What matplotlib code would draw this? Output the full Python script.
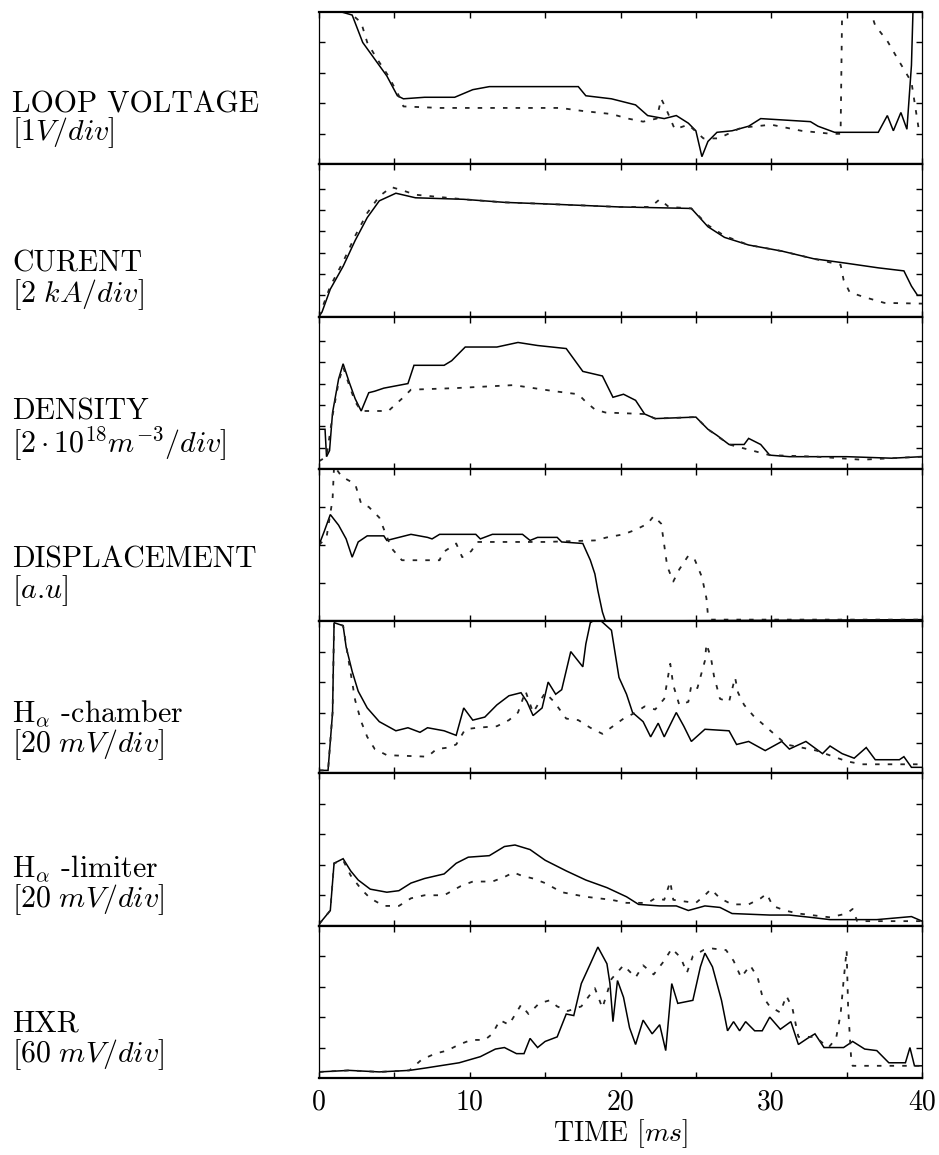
import numpy as np
import matplotlib
matplotlib.use("Agg")
import matplotlib.pyplot as plt

plt.rcParams['font.family'] = ['cmr10', 'DejaVu Serif']
plt.rcParams['mathtext.fontset'] = 'cm'
plt.rcParams['axes.unicode_minus'] = False

# ---------------- data (panel-normalised, 0 = bottom, 1 = top) ----------------
labels_top = ["LOOP VOLTAGE", "CURENT", "DENSITY", "DISPLACEMENT",
              r"H$_\alpha$ -chamber", r"H$_\alpha$ -limiter", "HXR"]
labels_unit = [r"$[1V/div]$", r"$[2\ kA/div]$", r"$[2\cdot10^{18}m^{-3}/div]$",
               r"[$a$.$u$]", r"$[20\ mV/div]$", r"$[20\ mV/div]$", r"$[60\ mV/div]$"]
xtick_labels = ["0", "10", "20", "30", "40"]

loop_t = [0, 1.5, 2.2, 2.9, 3.7, 4.5, 5.2, 5.6, 7.0, 9.0, 10.2, 11.3, 17.2, 17.7, 19.4, 21.0, 21.8, 22.9,
          23.7, 24.5, 25.0, 25.4, 25.8, 26.4, 27.4, 28.5, 29.3, 32.6, 33.1, 34.2, 37.1, 37.7, 38.1, 38.6,
          39.0, 39.3, 39.4, 40]
loop_s = [1.0, 1.0, 0.98, 0.80, 0.69, 0.58, 0.45, 0.43, 0.44, 0.44, 0.49, 0.51, 0.51, 0.45, 0.43, 0.39,
          0.32, 0.30, 0.32, 0.27, 0.22, 0.05, 0.15, 0.21, 0.22, 0.25, 0.30, 0.28, 0.25, 0.21, 0.21, 0.32,
          0.22, 0.34, 0.23, 0.65, 1.0, 1.0]
loop_dt = [0, 2.0, 2.8, 3.2, 3.8, 4.6, 5.3, 5.6, 8, 12, 16, 17.5, 19.4, 20.5, 21.5, 22.4, 22.7, 23.0,
           23.6, 24.5, 25.5, 26.5, 28, 30, 32, 34.0, 34.6, 34.7, 35.0, 36.6, 36.9, 37.7, 38.4, 39.3,
           39.8, 40]
loop_d = [1.0, 1.0, 0.93, 0.80, 0.70, 0.58, 0.45, 0.38, 0.37, 0.37, 0.37, 0.35, 0.33, 0.30, 0.28, 0.30,
          0.43, 0.37, 0.23, 0.26, 0.17, 0.17, 0.24, 0.26, 0.22, 0.20, 0.20, 1.0, 1.0, 1.0, 0.91, 0.81,
          0.69, 0.54, 0.22, 0.22]

cur_t = [0, 0.2, 0.75, 1.6, 2.4, 3.2, 4.0, 5.1, 6.4, 9.6, 12.3, 15.0, 19.9, 24.7, 25.8, 26.9, 28.5,
         30.7, 32.8, 35.0, 37.1, 38.8, 39.3, 39.7, 40]
cur_s = [0.0, 0.03, 0.18, 0.33, 0.50, 0.65, 0.76, 0.81, 0.78, 0.77, 0.75, 0.74, 0.72, 0.71, 0.59, 0.52,
         0.47, 0.43, 0.38, 0.35, 0.32, 0.30, 0.20, 0.14, 0.14]
cur_dt = [0, 0.75, 1.6, 2.4, 3.2, 4.0, 4.8, 5.5, 6.4, 9.6, 12.3, 15, 19.9, 22.0, 22.6, 23.2, 24.7, 25.8,
          26.9, 28.5, 30.7, 32.8, 34.6, 34.8, 35.2, 36.1, 37.5, 40]
cur_d = [0.0, 0.2, 0.36, 0.53, 0.68, 0.79, 0.85, 0.83, 0.80, 0.77, 0.75, 0.74, 0.72, 0.72, 0.77, 0.72,
         0.71, 0.60, 0.53, 0.47, 0.43, 0.38, 0.34, 0.24, 0.16, 0.13, 0.09, 0.085]

den_t = [0, 0.4, 0.5, 0.7, 0.9, 1.3, 1.6, 2.0, 2.4, 2.8, 3.3, 3.7, 4.3, 5.9, 6.3, 8.3, 8.8, 9.7, 11.8,
         13.2, 14.5, 16.4, 17.5, 18.8, 19.5, 20.2, 21.0, 21.6, 22.3, 25.0, 25.8, 26.4, 27.2, 28.2, 28.5,
         29.3, 29.9, 31.2, 35, 38, 40]
den_s = [0.26, 0.26, 0.08, 0.12, 0.37, 0.59, 0.69, 0.57, 0.46, 0.38, 0.50, 0.51, 0.53, 0.56, 0.68, 0.68,
         0.71, 0.80, 0.80, 0.83, 0.81, 0.79, 0.64, 0.61, 0.47, 0.49, 0.45, 0.36, 0.33, 0.34, 0.26, 0.22,
         0.16, 0.16, 0.20, 0.16, 0.09, 0.08, 0.08, 0.07, 0.08]
den_dt = [0, 0.5, 0.9, 1.3, 1.6, 2.0, 2.4, 2.8, 4.6, 5.6, 6.1, 9, 12.9, 15.6, 17.2, 17.7, 18.3, 19, 21.6,
          22.3, 25, 25.8, 27.2, 29.9, 33, 36, 40]
den_d = [0.05, 0.08, 0.35, 0.57, 0.67, 0.55, 0.44, 0.38, 0.38, 0.47, 0.52, 0.53, 0.55, 0.51, 0.49, 0.44,
         0.39, 0.37, 0.36, 0.33, 0.34, 0.26, 0.16, 0.09, 0.08, 0.06, 0.08]

dis_t = [0, 0.35, 0.75, 1.3, 1.8, 2.2, 2.6, 3.2, 4.3, 4.5, 5.3, 6.1, 7.2, 7.5, 8, 10.4, 10.7, 11.5, 13.5,
         14.0, 14.5, 15.8, 16.1, 17.5, 18.0, 18.3, 18.5, 18.8, 19.0, 40]
dis_s = [0.50, 0.59, 0.70, 0.63, 0.54, 0.42, 0.52, 0.56, 0.56, 0.53, 0.55, 0.57, 0.55, 0.54, 0.57, 0.57,
         0.54, 0.57, 0.57, 0.53, 0.55, 0.55, 0.52, 0.51, 0.40, 0.31, 0.20, 0.06, 0.0, 0.01]
dis_dt = [0, 0.5, 0.9, 1.0, 1.5, 2.4, 2.8, 3.3, 4.0, 4.8, 5.5, 8.0, 8.2, 9.1, 9.5, 10.1, 10.5, 15, 18.3,
          19.1, 20.2, 21.0, 21.8, 22.2, 22.7, 22.9, 23.1, 23.5, 23.9, 24.5, 24.9, 25.4, 25.7, 25.8, 26, 40]
dis_d = [0.50, 0.55, 0.80, 1.02, 0.95, 0.90, 0.77, 0.75, 0.68, 0.48, 0.40, 0.40, 0.45, 0.51, 0.42, 0.46,
         0.52, 0.52, 0.53, 0.55, 0.57, 0.60, 0.64, 0.69, 0.64, 0.50, 0.36, 0.26, 0.34, 0.43, 0.41, 0.29,
         0.15, 0.04, 0.01, 0.01]

hch_t = [0, 0.6, 0.9, 1.0, 1.6, 1.8, 2.2, 2.6, 3.2, 4.0, 5.1, 5.9, 6.7, 7.2, 8.3, 9.1, 9.6, 10.2, 11.0,
         11.8, 12.6, 13.4, 13.8, 14.2, 14.8, 15.2, 15.7, 16.1, 16.7, 17.5, 17.7, 18.0, 18.5, 19.4, 19.9,
         20.4, 20.8, 21.5, 22.0, 22.5, 22.9, 23.7, 24.2, 24.7, 25.6, 27.2, 27.7, 28.5, 29.6, 30.7, 31.2,
         32.3, 33.4, 33.9, 34.7, 35.5, 36.3, 36.9, 38.5, 38.8, 39.3, 40]
hch_s = [0.02, 0.02, 0.40, 0.99, 0.97, 0.83, 0.67, 0.54, 0.43, 0.34, 0.28, 0.30, 0.27, 0.30, 0.28, 0.25,
         0.43, 0.35, 0.37, 0.45, 0.51, 0.53, 0.47, 0.38, 0.43, 0.60, 0.52, 0.55, 0.80, 0.70, 0.85, 0.99,
         1.02, 0.94, 0.63, 0.52, 0.40, 0.34, 0.24, 0.33, 0.24, 0.40, 0.31, 0.21, 0.29, 0.28, 0.19, 0.21,
         0.15, 0.21, 0.16, 0.21, 0.13, 0.18, 0.13, 0.10, 0.17, 0.09, 0.09, 0.11, 0.04, 0.04]
hch_dt = [0, 0.6, 0.9, 1.0, 1.6, 1.9, 2.4, 2.8, 3.2, 3.7, 4.5, 7.2, 7.8, 8.6, 9.1, 9.7, 10.5, 11.8, 12.6,
          13.2, 13.7, 14.2, 15.0, 15.6, 16.4, 17.2, 18.0, 18.8, 19.5, 20.2, 21.0, 21.6, 22.3, 22.9, 23.3,
          23.5, 23.9, 24.5, 24.7, 25.1, 25.6, 25.7, 26.0, 26.2, 26.6, 27.2, 27.6, 27.8, 28.2, 28.8, 29.6,
          31, 33, 35, 36, 40]
hch_d = [0.02, 0.02, 0.40, 0.99, 0.97, 0.78, 0.48, 0.34, 0.24, 0.16, 0.12, 0.11, 0.16, 0.17, 0.19, 0.29,
         0.30, 0.31, 0.35, 0.40, 0.54, 0.40, 0.53, 0.47, 0.36, 0.35, 0.30, 0.26, 0.31, 0.36, 0.40, 0.44,
         0.42, 0.49, 0.72, 0.58, 0.45, 0.47, 0.58, 0.56, 0.74, 0.85, 0.76, 0.64, 0.49, 0.47, 0.63, 0.53,
         0.45, 0.38, 0.31, 0.19, 0.15, 0.08, 0.06, 0.06]

hlim_t = [0, 0.75, 1.0, 1.6, 2.1, 2.6, 3.4, 4.5, 5.3, 6.1, 7.0, 8.3, 9.1, 9.9, 11.3, 12.3, 13.0, 14.0,
          15.0, 16.4, 17.7, 19.1, 20.4, 21.2, 22.6, 23.7, 24.5, 25.6, 26.6, 27.4, 29.9, 31.2, 32.6, 33.9,
          37, 39.3, 40]
hlim_s = [0.01, 0.10, 0.41, 0.44, 0.36, 0.30, 0.24, 0.22, 0.23, 0.28, 0.31, 0.34, 0.41, 0.45, 0.46, 0.52,
          0.53, 0.50, 0.43, 0.36, 0.30, 0.25, 0.19, 0.14, 0.13, 0.13, 0.10, 0.13, 0.12, 0.08, 0.07, 0.07,
          0.055, 0.04, 0.04, 0.06, 0.03]
hlim_dt = [0, 0.75, 1.0, 1.6, 2.1, 2.8, 3.4, 4.3, 5.3, 6.1, 7.0, 8.3, 9.4, 10.2, 11.5, 12.3, 12.9, 13.4,
           14.2, 15.0, 16.1, 17.7, 19.4, 20.4, 21.8, 22.3, 22.9, 23.3, 23.5, 24.2, 25.0, 25.6, 26.0, 26.6,
           27.4, 28.5, 29.3, 29.7, 30.1, 30.9, 31.8, 33.9, 35.0, 35.4, 35.7, 40]
hlim_d = [0.01, 0.10, 0.41, 0.43, 0.33, 0.24, 0.18, 0.13, 0.13, 0.18, 0.20, 0.20, 0.26, 0.29, 0.29, 0.32,
          0.35, 0.33, 0.31, 0.28, 0.22, 0.19, 0.17, 0.15, 0.15, 0.18, 0.17, 0.29, 0.17, 0.16, 0.15, 0.20,
          0.24, 0.18, 0.14, 0.14, 0.18, 0.21, 0.13, 0.10, 0.08, 0.055, 0.08, 0.11, 0.03, 0.03]

hxr_t = [0, 2, 4, 6, 7.1, 9.3, 10.7, 11.7, 12.3, 13.1, 13.6, 14.0, 14.5, 15.0, 15.8, 16.4, 16.9, 17.4,
         18.0, 18.5, 19.1, 19.3, 19.5, 19.8, 20.2, 20.6, 21.0, 21.5, 22.1, 22.6, 23.0, 23.4, 23.8, 24.8,
         25.3, 25.6, 26.1, 26.7, 27.1, 27.5, 27.9, 28.3, 28.9, 29.4, 29.9, 30.6, 31.3, 31.8, 32.4, 32.9,
         33.5, 34.8, 35.4, 36.2, 37.0, 37.8, 38.9, 39.2, 39.5, 40]
hxr_s = [0.04, 0.05, 0.04, 0.05, 0.066, 0.10, 0.14, 0.19, 0.20, 0.16, 0.16, 0.26, 0.20, 0.24, 0.27, 0.42,
         0.41, 0.62, 0.75, 0.86, 0.75, 0.62, 0.37, 0.64, 0.53, 0.33, 0.22, 0.38, 0.29, 0.35, 0.18, 0.62,
         0.49, 0.51, 0.73, 0.82, 0.73, 0.51, 0.31, 0.37, 0.31, 0.37, 0.31, 0.31, 0.40, 0.32, 0.37, 0.22,
         0.26, 0.29, 0.20, 0.20, 0.24, 0.19, 0.18, 0.10, 0.10, 0.20, 0.08, 0.08]
hxr_dt = [0, 2, 4, 6, 6.8, 7.7, 8.5, 9.3, 10.1, 11.0, 11.5, 12.0, 12.6, 13.4, 13.9, 14.6, 15.3, 15.8,
          16.5, 17.4, 18.3, 18.8, 19.4, 20.2, 21.0, 21.5, 22.2, 22.9, 23.4, 24.0, 24.4, 24.8, 25.5, 26.1,
          27.0, 27.5, 28.0, 28.6, 29.1, 29.4, 29.9, 30.6, 31.0, 31.4, 31.8, 32.9, 33.8, 34.3, 34.6, 34.8,
          35.0, 35.1, 35.3, 35.4, 40]
hxr_d = [0.04, 0.05, 0.04, 0.05, 0.12, 0.16, 0.18, 0.22, 0.25, 0.25, 0.29, 0.38, 0.35, 0.48, 0.42, 0.49,
         0.51, 0.47, 0.44, 0.47, 0.59, 0.46, 0.65, 0.74, 0.66, 0.74, 0.68, 0.77, 0.85, 0.79, 0.69, 0.80,
         0.84, 0.85, 0.84, 0.77, 0.66, 0.74, 0.66, 0.54, 0.47, 0.43, 0.54, 0.46, 0.27, 0.27, 0.20, 0.26,
         0.42, 0.64, 0.84, 0.46, 0.13, 0.08, 0.08]

panels = [
    (loop_t, loop_s, loop_dt, loop_d),
    (cur_t, cur_s, cur_dt, cur_d),
    (den_t, den_s, den_dt, den_d),
    (dis_t, dis_s, dis_dt, dis_d),
    (hch_t, hch_s, hch_dt, hch_d),
    (hlim_t, hlim_s, hlim_dt, hlim_d),
    (hxr_t, hxr_s, hxr_dt, hxr_d),
]

# ---------------- layout ----------------
W, H = 939, 1155
fig = plt.figure(figsize=(W / 100, H / 100), dpi=100)
left, right = 319 / W, 922 / W
top_px, bot_px = 12, 1078
ph = (bot_px - top_px) / 7

ytick_sets = [
    [0.2, 0.4, 0.6, 0.8],
    [0.14, 0.28, 0.42, 0.56, 0.70, 0.84],
    [0.14, 0.28, 0.42, 0.56, 0.70, 0.84],
    [0.25, 0.5, 0.75],
    [0.2, 0.4, 0.6, 0.8],
    [0.2, 0.4, 0.6, 0.8],
    [0.2, 0.4, 0.6, 0.8],
]

label_y = [(105, 133), (264, 295), (412, 444), (560, 591), (714, 745), (869, 900), (1024, 1055)]
LBL_FS = 21.5

for i, (ts, vs, td, vd) in enumerate(panels):
    y0 = top_px + ph * (i + 1)
    ax = fig.add_axes([left, 1 - y0 / H, right - left, ph / H])
    ax.plot(ts, vs, color='black', lw=1.1, solid_joinstyle='miter')
    ax.plot(td, vd, color='#222222', lw=1.3, linestyle=(0, (2.5, 4.5)))
    ax.set_xlim(0, 40)
    ax.set_ylim(0, 1)
    ax.set_xticks(np.arange(0, 41, 5))
    ax.set_yticks(ytick_sets[i])
    ax.set_yticklabels([])
    ax.tick_params(direction='in', top=True, right=True, length=4, width=1.0, color='black')
    for s in ['top', 'bottom']:
        ax.spines[s].set_linewidth(1.6)
    for s in ['left', 'right']:
        ax.spines[s].set_linewidth(0.9)
        ax.spines[s].set_linestyle((0, (4, 1)))
    if i < 6:
        ax.set_xticklabels([])
    else:
        ax.set_xticklabels([xtick_labels[k // 2] if k % 2 == 0 else '' for k in range(9)],
                           fontsize=20)
        ax.tick_params(axis='x', pad=8)
        ax.set_xlabel(r"TIME $[ms]$", fontsize=20, labelpad=1)

    ya, yb = label_y[i]
    fig.text(12 / W, 1 - ya / H, labels_top[i], fontsize=LBL_FS, va='center', ha='left')
    fig.text(12 / W, 1 - yb / H, labels_unit[i], fontsize=LBL_FS, va='center', ha='left')

fig.savefig("out.png", dpi=100)
